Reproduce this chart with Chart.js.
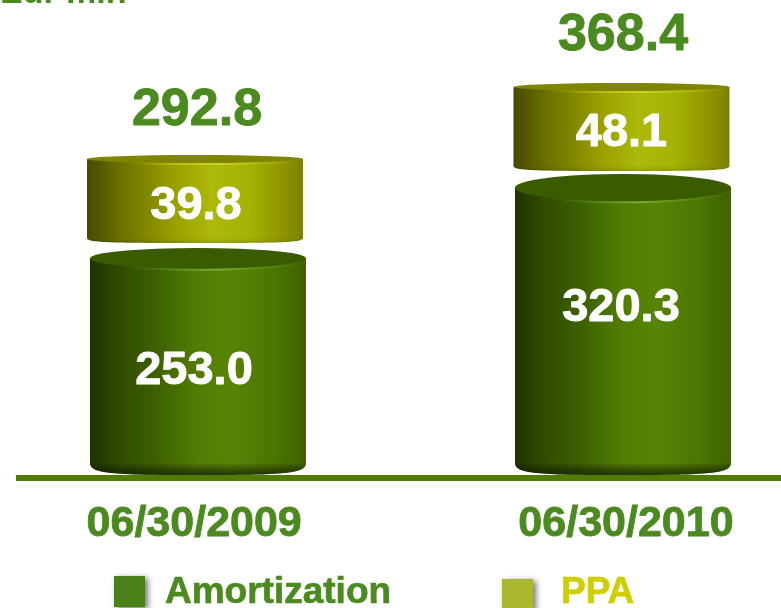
<!DOCTYPE html>
<html><head><meta charset="utf-8">
<style>html,body{margin:0;padding:0;background:#fff;overflow:hidden}canvas{display:block}</style>
<script src="https://cdn.jsdelivr.net/npm/chart.js@4"></script>
</head><body><div style="width:781px;height:608px;position:relative"><canvas id="c" width="781" height="608"></canvas></div>
<script>
const categories = ['06/30/2009', '06/30/2010'];
const amortization = [253.0, 320.3];
const ppa = [39.8, 48.1];
const totals = [292.8, 368.4];
const unitLabel = 'Eur mln';
const ppaBandUnits = 92.4;
const yFloor = 43.8;

const FONT = '"Liberation Sans", Arial, sans-serif';
const GREEN = '#4b8a1e', LIME = '#cfcf00';
const amortStops = [[0,'#1f3300'],[.12,'#2f4a00'],[.3,'#3d6002'],[.5,'#527d04'],[.65,'#578506'],[.85,'#4c7502'],[1,'#3f6200']];
const ppaStops = [[0,'#474a00'],[.15,'#6a6f00'],[.4,'#999f00'],[.58,'#adb90a'],[.75,'#a5b104'],[.9,'#8f9600'],[1,'#7b8000']];

function cylinder(ctx, el, dx, o) {
  const w = el.width, L = el.x + dx - w / 2, R = L + w, cx = L + w / 2;
  const top = el.y, bot = o.bottom(el), ry = o.ry(el), rb = o.rb(el);
  const side = top + ry;
  const grad = ctx.createLinearGradient(L, 0, R, 0);
  o.stops.forEach(s => grad.addColorStop(s[0], s[1]));
  ctx.save();
  ctx.beginPath();
  ctx.moveTo(L, side);
  ctx.lineTo(L, bot - rb);
  ctx.bezierCurveTo(L, bot - rb * .1, L + w * .1, bot, cx, bot);
  ctx.bezierCurveTo(R - w * .1, bot, R, bot - rb * .1, R, bot - rb);
  ctx.lineTo(R, side);
  ctx.closePath();
  ctx.fillStyle = grad;
  ctx.fill();
  ctx.clip();
  const shade = ctx.createLinearGradient(0, bot - rb, 0, bot);
  shade.addColorStop(0, 'rgba(0,0,0,0)');
  shade.addColorStop(1, 'rgba(20,30,0,' + o.shade + ')');
  ctx.fillStyle = shade;
  ctx.fillRect(L, bot - rb, w, rb);
  const rim = ctx.createRadialGradient(cx + w * .08, side + ry, 0, cx + w * .08, side + ry, w * .42);
  rim.addColorStop(0, o.rim);
  rim.addColorStop(1, o.rimEnd);
  ctx.beginPath();
  ctx.ellipse(cx, side + 2, w / 2, ry, 0, 0, Math.PI * 2);
  ctx.fillStyle = rim;
  ctx.fill();
  ctx.restore();
  ctx.save();
  ctx.beginPath();
  ctx.ellipse(cx, side, w / 2, ry, 0, 0, Math.PI * 2);
  ctx.fillStyle = o.face;
  ctx.fill();
  ctx.restore();
}

function label(ctx, text, x, y, size, color) {
  ctx.font = 'bold ' + size + 'px ' + FONT;
  ctx.fillStyle = color;
  ctx.strokeStyle = color;
  ctx.lineWidth = 0.9;
  ctx.lineJoin = 'round';
  ctx.textAlign = 'center';
  ctx.textBaseline = 'middle';
  ctx.fillText(text, x, y);
  ctx.strokeText(text, x, y);
}

const cylinderPlugin = {
  id: 'cylinders',
  beforeDraw(chart) {
    const ctx = chart.ctx;
    ctx.save();
    ctx.font = 'bold 34px ' + FONT;
    ctx.fillStyle = GREEN;
    ctx.textAlign = 'left';
    ctx.textBaseline = 'alphabetic';
    ctx.fillText(unitLabel, 0, 3);
    ctx.restore();
  },
  afterDatasetsDraw(chart) {
    const ctx = chart.ctx;
    const a = chart.getDatasetMeta(0).data, p = chart.getDatasetMeta(1).data;
    a.forEach(el => {
      const h = el.base - el.y;
      cylinder(ctx, el, 0, {
        stops: amortStops, face: '#3a5c00', rim: 'rgba(125,175,50,.95)', rimEnd: 'rgba(90,140,20,0)', shade: .75,
        bottom: e => e.base - 3, ry: () => h * .045, rb: () => 12
      });
    });
    p.forEach((el, i) => {
      cylinder(ctx, el, [-3, -1.5][i], {
        stops: ppaStops, face: '#808500', rim: 'rgba(205,215,25,.95)', rimEnd: 'rgba(190,200,20,0)', shade: .15,
        bottom: e => e.base, ry: () => 4, rb: () => 5
      });
    });
    ctx.save();
    a.forEach((el, i) => label(ctx, amortization[i].toFixed(1), el.x - 4 + i * 2, [371, 308][i], 47, '#fff'));
    p.forEach((el, i) => {
      label(ctx, ppa[i].toFixed(1), el.x - [2, 1.5][i], el.y + [51, 50][i], 47, '#fff');
      label(ctx, totals[i].toFixed(1), el.x - [1, 0][i], el.y - [44, 47][i], 52, GREEN);
    });
    const entries = [
      {t: chart.data.datasets[0].label, x: 114, y: 576, c: GREEN, box: '#4a7f1a', tx: 165},
      {t: chart.data.datasets[1].label, x: 502, y: 579, c: LIME, box: '#a9b82f', tx: 561}
    ];
    entries.forEach(e => {
      ctx.save();
      ctx.shadowColor = 'rgba(0,0,0,.55)';
      ctx.shadowBlur = 6;
      ctx.shadowOffsetX = 3;
      ctx.shadowOffsetY = 2;
      ctx.fillStyle = e.box;
      ctx.fillRect(e.x, e.y, 31, 31);
      ctx.restore();
      ctx.font = 'bold 37px ' + FONT;
      ctx.fillStyle = e.c;
      ctx.strokeStyle = e.c;
      ctx.lineWidth = 0.7;
      ctx.textAlign = 'left';
      ctx.textBaseline = 'middle';
      ctx.fillText(e.t, e.tx, 593);
      ctx.strokeText(e.t, e.tx, 593);
    });
    ctx.restore();
  }
};

new Chart(document.getElementById('c'), {
  type: 'bar',
  data: {
    datasets: [
      {label: 'Amortization', yAxisID: 'y', backgroundColor: 'rgba(0,0,0,0)', barThickness: 216, grouped: false,
       base: yFloor, data: amortization.map((v, i) => ({x: i, y: v}))},
      {label: 'PPA', yAxisID: 'y2', backgroundColor: 'rgba(0,0,0,0)', barThickness: 216, grouped: false,
       data: totals.map((v, i) => ({x: i, y: [v - ppaBandUnits, v]}))}
    ]
  },
  options: {
    responsive: false,
    animation: false,
    layout: {padding: {left: 19, right: 0, top: 0, bottom: 0}},
    plugins: {legend: {display: false}, tooltip: {enabled: false}, title: {display: false}},
    scales: {
      x: {
        type: 'linear', offset: false, min: -0.4212, max: 1.3718,
        grid: {display: false, drawTicks: false},
        border: {display: true, color: '#4f7d00', width: 6},
        afterBuildTicks(s) { s.ticks = [{value: -0.009}, {value: 1.007}]; },
        afterFit(s) { s.height = 130; },
        ticks: {
          autoSkip: false, maxRotation: 0, padding: 20, color: GREEN,
          textStrokeColor: GREEN, textStrokeWidth: 0.8,
          font: {family: FONT, size: 43, weight: 'bold'},
          callback: (v, i) => categories[i]
        }
      },
      y: {display: false, min: yFloor, max: 478.5},
      y2: {display: false, min: -46.3, max: 455.5}
    }
  },
  plugins: [cylinderPlugin]
});
</script></body></html>
